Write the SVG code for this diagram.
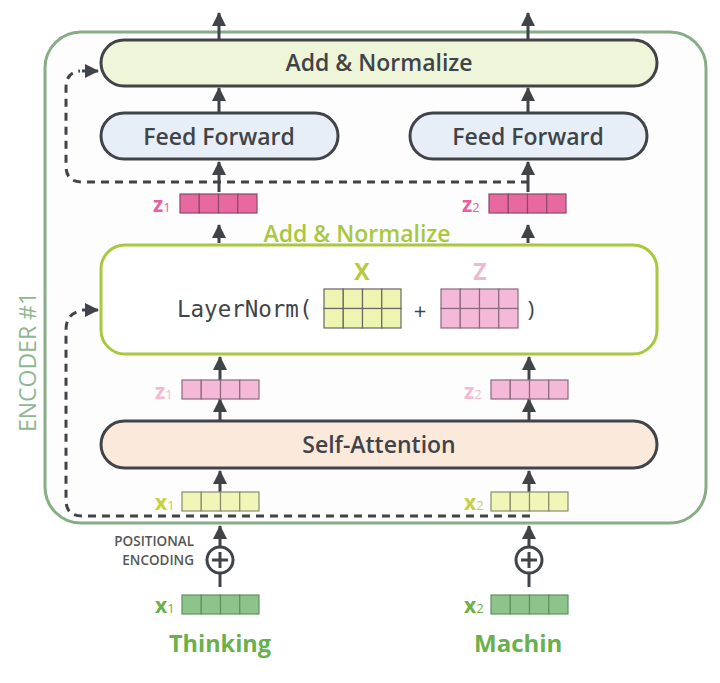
<svg xmlns="http://www.w3.org/2000/svg" width="720" height="683" viewBox="0 0 720 683">
<defs>
<marker id="ah" markerUnits="userSpaceOnUse" markerWidth="14" markerHeight="14" viewBox="0 0 14 14" refX="13" refY="7" orient="auto">
<path d="M0,0 L14,7 L0,14 z" fill="#404448"/>
</marker>
<style>
.box{stroke:#404448;stroke-width:3}
.lbl{font-family:"Open Sans","Noto Sans","DejaVu Sans",sans-serif;fill:#404448;text-anchor:middle;font-size:23px;font-weight:600}
.arr{stroke:#404448;stroke-width:3;fill:none;marker-end:url(#ah)}
.dash{stroke:#404448;stroke-width:3;fill:none;stroke-dasharray:8,6}
.cell{stroke-width:1.2}
.sub{font-family:"Open Sans","Noto Sans","DejaVu Sans",sans-serif;font-weight:bold}
.pe{font-family:"Open Sans","Noto Sans",sans-serif;font-size:13.5px;font-weight:600;fill:#555;text-anchor:end}
</style>
</defs>
<rect width="720" height="683" fill="#ffffff"/>
<g id="encoder">
<rect x="45" y="32" width="661" height="491" rx="36" fill="#fdfdfd" stroke="#86ad86" stroke-width="3"/>
<text transform="translate(36,362) rotate(-90)" font-family="Open Sans, Noto Sans, sans-serif" font-size="23" fill="#90b890" text-anchor="middle">ENCODER #1</text>
</g>
<g id="connectors">
<line class="arr" x1="219" y1="39" x2="219" y2="13"/>
<line class="arr" x1="528" y1="39" x2="528" y2="13"/>
<line class="arr" x1="219" y1="112" x2="219" y2="88"/>
<line class="arr" x1="528" y1="112" x2="528" y2="88"/>
<line class="arr" x1="219" y1="192" x2="219" y2="162"/>
<line class="arr" x1="528" y1="192" x2="528" y2="162"/>
<line class="arr" x1="219" y1="243" x2="219" y2="225"/>
<line class="arr" x1="528" y1="243" x2="528" y2="225"/>
<line class="arr" x1="220" y1="380" x2="220" y2="357"/>
<line class="arr" x1="529" y1="380" x2="529" y2="357"/>
<line class="arr" x1="220" y1="420" x2="220" y2="399"/>
<line class="arr" x1="529" y1="420" x2="529" y2="399"/>
<line class="arr" x1="220" y1="492" x2="220" y2="471"/>
<line class="arr" x1="529" y1="492" x2="529" y2="471"/>
<line class="arr" x1="220" y1="546" x2="220" y2="526"/>
<line class="arr" x1="529" y1="546" x2="529" y2="526"/>
<line stroke="#404448" stroke-width="3" x1="220" y1="574" x2="220" y2="587"/>
<line stroke="#404448" stroke-width="3" x1="529" y1="574" x2="529" y2="587"/>
<path class="dash" d="M529,182 H82 Q66,182 66,166 V88 Q66,72 80,71"/>
<path class="arr" d="M82,71 L98,71"/>
<path class="dash" d="M530,516 H82 Q66,516 66,500 V330 Q66,314 80,311"/>
<path class="arr" d="M82,310 L98,310"/>
</g>
<g id="add-normalize-top">
<rect class="box" x="101" y="40" width="556" height="46" rx="23" fill="#eef5d8"/>
<text class="lbl" x="379" y="71">Add &amp; Normalize</text>
</g>
<g id="feed-forward-1">
<rect class="box" x="101" y="113" width="237" height="46" rx="23" fill="#e8eef8"/>
<text class="lbl" x="219" y="145">Feed Forward</text>
</g>
<g id="feed-forward-2">
<rect class="box" x="410" y="113" width="237" height="46" rx="23" fill="#e8eef8"/>
<text class="lbl" x="528" y="145">Feed Forward</text>
</g>
<g id="z1-top">
<text class="sub" x="153" y="212" font-size="21" fill="#e8609b">z<tspan font-size="13" font-weight="normal">1</tspan></text>
<g fill="#e8699f" stroke="#8a4a6a" class="cell">
<rect x="180" y="194" width="19.25" height="19"/><rect x="199.25" y="194" width="19.25" height="19"/><rect x="218.5" y="194" width="19.25" height="19"/><rect x="237.75" y="194" width="19.25" height="19"/>
</g>
</g>
<g id="z2-top">
<text class="sub" x="462" y="212" font-size="21" fill="#e8609b">z<tspan font-size="13" font-weight="normal">2</tspan></text>
<g fill="#e8699f" stroke="#8a4a6a" class="cell">
<rect x="489" y="194" width="19.25" height="19"/><rect x="508.25" y="194" width="19.25" height="19"/><rect x="527.5" y="194" width="19.25" height="19"/><rect x="546.75" y="194" width="19.25" height="19"/>
</g>
</g>
<g id="add-normalize-mid">
<text class="lbl" x="357" y="242" style="fill:#a8c840">Add &amp; Normalize</text>
<rect x="101" y="245" width="556" height="109" rx="24" fill="#ffffff" stroke="#a8c840" stroke-width="3"/>
<text x="177" y="317" font-family="DejaVu Sans Mono, Liberation Mono, monospace" font-size="22.5" fill="#404448">LayerNorm(</text>
<text class="sub" x="362" y="280" font-size="23" fill="#b8c83a" text-anchor="middle">X</text>
<g fill="#eef5b0" stroke="#666" class="cell">
<rect x="324" y="289" width="19.25" height="19.5"/><rect x="343.25" y="289" width="19.25" height="19.5"/><rect x="362.5" y="289" width="19.25" height="19.5"/><rect x="381.75" y="289" width="19.25" height="19.5"/>
<rect x="324" y="308.5" width="19.25" height="19.5"/><rect x="343.25" y="308.5" width="19.25" height="19.5"/><rect x="362.5" y="308.5" width="19.25" height="19.5"/><rect x="381.75" y="308.5" width="19.25" height="19.5"/>
</g>
<text x="420" y="319" font-family="Open Sans, sans-serif" font-size="22" fill="#404448" text-anchor="middle">+</text>
<text class="sub" x="480" y="280" font-size="23" fill="#f0b8d0" text-anchor="middle">Z</text>
<g fill="#f4b8d8" stroke="#8a6a7a" class="cell">
<rect x="441" y="289" width="19.25" height="19.5"/><rect x="460.25" y="289" width="19.25" height="19.5"/><rect x="479.5" y="289" width="19.25" height="19.5"/><rect x="498.75" y="289" width="19.25" height="19.5"/>
<rect x="441" y="308.5" width="19.25" height="19.5"/><rect x="460.25" y="308.5" width="19.25" height="19.5"/><rect x="479.5" y="308.5" width="19.25" height="19.5"/><rect x="498.75" y="308.5" width="19.25" height="19.5"/>
</g>
<text x="531" y="317" font-family="Open Sans, sans-serif" font-size="22" fill="#404448" text-anchor="middle">)</text>
</g>
<g id="z1-low">
<text class="sub" x="155" y="399" font-size="21" fill="#f4b8d0">z<tspan font-size="13" font-weight="normal">1</tspan></text>
<g fill="#f4b8d8" stroke="#8a6a7a" class="cell">
<rect x="182" y="380" width="19.25" height="19"/><rect x="201.25" y="380" width="19.25" height="19"/><rect x="220.5" y="380" width="19.25" height="19"/><rect x="239.75" y="380" width="19.25" height="19"/>
</g>
</g>
<g id="z2-low">
<text class="sub" x="464" y="399" font-size="21" fill="#f4b8d0">z<tspan font-size="13" font-weight="normal">2</tspan></text>
<g fill="#f4b8d8" stroke="#8a6a7a" class="cell">
<rect x="491" y="380" width="19.25" height="19"/><rect x="510.25" y="380" width="19.25" height="19"/><rect x="529.5" y="380" width="19.25" height="19"/><rect x="548.75" y="380" width="19.25" height="19"/>
</g>
</g>
<g id="self-attention">
<rect class="box" x="101" y="421" width="556" height="47" rx="23.5" fill="#fbe9dc"/>
<text class="lbl" x="379" y="453">Self-Attention</text>
</g>
<g id="x1-enc">
<text class="sub" x="155" y="510" font-size="21" fill="#c8d040">x<tspan font-size="13" font-weight="normal">1</tspan></text>
<g fill="#f0f5b8" stroke="#8a8a6a" class="cell">
<rect x="182" y="492" width="19.25" height="19"/><rect x="201.25" y="492" width="19.25" height="19"/><rect x="220.5" y="492" width="19.25" height="19"/><rect x="239.75" y="492" width="19.25" height="19"/>
</g>
</g>
<g id="x2-enc">
<text class="sub" x="464" y="510" font-size="21" fill="#c8d040">x<tspan font-size="13" font-weight="normal">2</tspan></text>
<g fill="#f0f5b8" stroke="#8a8a6a" class="cell">
<rect x="491" y="492" width="19.25" height="19"/><rect x="510.25" y="492" width="19.25" height="19"/><rect x="529.5" y="492" width="19.25" height="19"/><rect x="548.75" y="492" width="19.25" height="19"/>
</g>
</g>
<g id="pos-enc-1">
<text class="pe" x="194" y="546">POSITIONAL</text>
<text class="pe" x="194" y="565">ENCODING</text>
<circle cx="220" cy="560" r="13" fill="#fff" stroke="#404448" stroke-width="3"/>
<path d="M212,560 H228 M220,552 V568" stroke="#404448" stroke-width="3"/>
</g>
<g id="pos-enc-2">
<circle cx="529" cy="560" r="13" fill="#fff" stroke="#404448" stroke-width="3"/>
<path d="M521,560 H537 M529,552 V568" stroke="#404448" stroke-width="3"/>
</g>
<g id="x1-in">
<text class="sub" x="155" y="613" font-size="21" fill="#6ab04c">x<tspan font-size="13" font-weight="normal">1</tspan></text>
<g fill="#8cc48c" stroke="#5f915f" class="cell">
<rect x="182" y="595" width="19.25" height="19"/><rect x="201.25" y="595" width="19.25" height="19"/><rect x="220.5" y="595" width="19.25" height="19"/><rect x="239.75" y="595" width="19.25" height="19"/>
</g>
<text class="sub" x="220" y="652" font-size="23.5" fill="#6ab04c" text-anchor="middle">Thinking</text>
</g>
<g id="x2-in">
<text class="sub" x="464" y="613" font-size="21" fill="#6ab04c">x<tspan font-size="13" font-weight="normal">2</tspan></text>
<g fill="#8cc48c" stroke="#5f915f" class="cell">
<rect x="491" y="595" width="19.25" height="19"/><rect x="510.25" y="595" width="19.25" height="19"/><rect x="529.5" y="595" width="19.25" height="19"/><rect x="548.75" y="595" width="19.25" height="19"/>
</g>
<text class="sub" x="474" y="652" font-size="24" fill="#6ab04c">Machin</text>
</g>
</svg>
